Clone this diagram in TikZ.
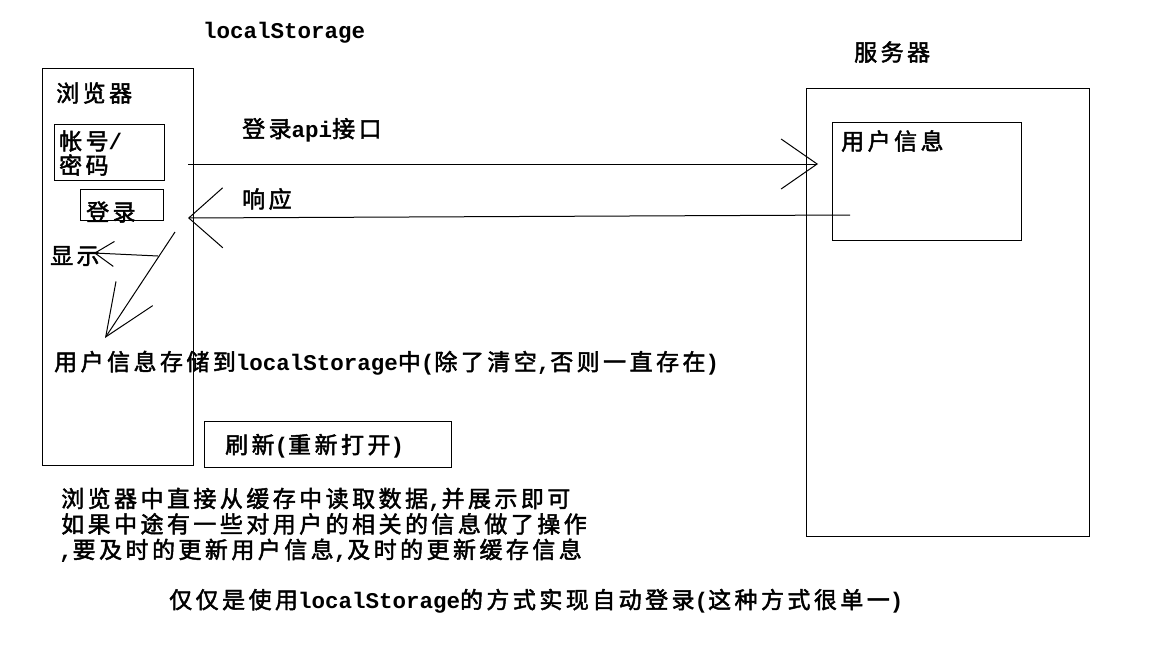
\documentclass[tikz,border=0pt]{standalone}
\usepackage{fontspec}
\setmainfont{Noto Sans CJK SC}[LetterSpace=15, FakeBold=2]
\newfontfamily\latinmono{Liberation Mono}
\newcommand{\entext}[1]{{\latinmono\bfseries\fontsize{22.5}{26}\selectfont #1}}
\usetikzlibrary{arrows.meta}

\tikzset{
  box/.style={draw, line width=1pt},
  note/.style={anchor=west, inner sep=0pt, align=left, font=\fontsize{23}{25.5}\selectfont},
  conn/.style={line width=1pt},
}

\begin{document}
\begin{tikzpicture}[x=1pt, y=-1pt]
    % Page
    \fill[white] (0,0) rectangle (1175,669);
    \useasboundingbox (0,0) rectangle (1175,669);

    % Browser column
    \node[note] (lstitle) at (203,33) {\entext{localStorage}};
    \draw[box] (42,69) rectangle (193,465);
    \node[note] (browser) at (56,93) {浏览器};
    \draw[box] (54,124) rectangle (164,180); % account box
    \node[note] (account) at (59,141) {帐号\entext{/}};
    \node[note] (password) at (59,165) {密码};
    \draw[box] (80,189) rectangle (163,220); % login button
    \node[note] (login) at (86,212) {登录};
    \node[note] (show) at (50,256) {显示};

    % Server column
    \node[note] (servertitle) at (854,52) {服务器};
    \draw[box] (806,88) rectangle (1089,536);
    \draw[box] (832,122) rectangle (1021,240); % user info box
    \node[note] (userinfo) at (841,141) {用户信息};

    % Request / response labels
    \node[note] (api) at (242,130) {登录\entext{api}接口};
    \node[note] (reply) at (242,199) {响应};

    % Connector ends
    \coordinate (reqA) at (188,164);
    \coordinate (reqB) at (818,164);
    \coordinate (resA) at (850,215);
    \coordinate (resB) at (188,218);
    \coordinate (showA) at (158,256);
    \coordinate (showB) at (94,253);
    \coordinate (storeA) at (175,232);
    \coordinate (storeB) at (105,338);

    % Arrows
    \draw[conn, -{Straight Barb[length=36pt, width=50pt]}] (reqA) -- (reqB);
    \draw[conn, -{Straight Barb[length=34pt, width=60pt]}] (resA) -- (resB);
    \draw[conn, -{Straight Barb[length=19pt, width=25pt]}] (showA) -- (showB);
    \draw[conn, -{Straight Barb[length=52pt, width=44pt]}] (storeA) -- (storeB);

    % Storage note
    \node[note] (store) at (54,363) {用户信息存储到\entext{localStorage}中\entext{(}除了清空\entext{,}否则一直存在\entext{)}};

    % Refresh box
    \draw[box] (204,421) rectangle (451,467);
    \node[note] (refresh) at (225,446) {刷新\entext{(}重新打开\entext{)}};

    % Bottom notes
    \node[note] (cache) at (59,525) {\hspace{2pt}浏览器中直接从缓存中读取数据\entext{,}并展示即可\\
        \hspace{2pt}如果中途有一些对用户的相关的信息做了操作\\
        \entext{,}要及时的更新用户信息\entext{,}及时的更新缓存信息};
    \node[note] (summary) at (169,601) {仅仅是使用\entext{localStorage}的方式实现自动登录\entext{(}这种方式很单一\entext{)}};
\end{tikzpicture}
\end{document}
